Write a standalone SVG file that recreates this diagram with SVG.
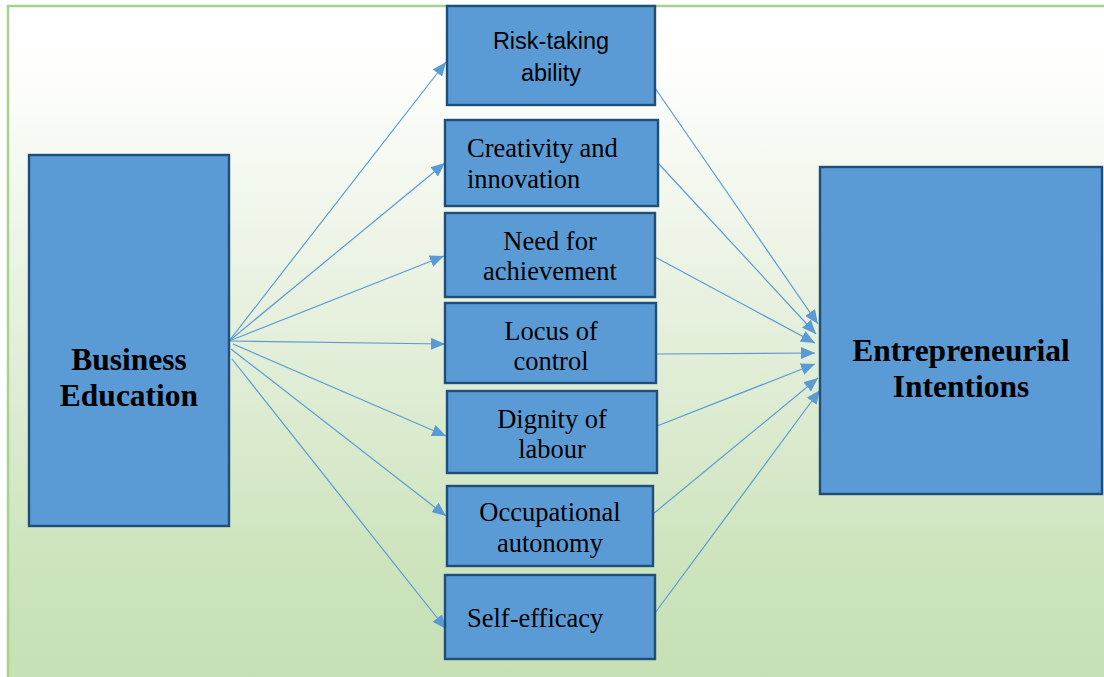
<svg xmlns="http://www.w3.org/2000/svg" width="1104" height="677" viewBox="0 0 1104 677">
  <defs>
    <linearGradient id="bg" x1="0" y1="0" x2="0" y2="1">
      <stop offset="0" stop-color="#ffffff"/>
      <stop offset="0.1" stop-color="#fdfefc"/>
      <stop offset="0.45" stop-color="#e6f0dd"/>
      <stop offset="0.8" stop-color="#cde4bd"/>
      <stop offset="1" stop-color="#c5dfb3"/>
    </linearGradient>
    <marker id="arrow" markerWidth="14" markerHeight="12" refX="14" refY="6" orient="auto" markerUnits="userSpaceOnUse">
      <path d="M0,0 L14,6 L0,12 Z" fill="#5b9bd5"/>
    </marker>
    <style>
      .box { fill: #5b9bd5; stroke: #1f4e79; stroke-width: 2.4; }
      .serif { font-family: "Liberation Serif", "Times New Roman", serif; fill: #000; }
      .sans { font-family: "Liberation Sans", Arial, sans-serif; fill: #000; }
      .lbl { font-size: 26.5px; }
      .big { font-size: 31.5px; font-weight: bold; }
      .mid { text-anchor: middle; }
      .link { stroke: #5b9bd5; stroke-width: 1.2; fill: none; marker-end: url(#arrow); }
    </style>
  </defs>

  <!-- canvas background and frame -->
  <rect x="0" y="0" width="1104" height="677" fill="#ffffff"/>
  <rect x="8" y="6" width="1110" height="690" fill="url(#bg)" stroke="#a9d18e" stroke-width="2.5"/>

  <!-- connectors -->
  <g id="connectors">
    <line class="link" x1="229" y1="341" x2="446" y2="62"/>
    <line class="link" x1="229" y1="341" x2="445" y2="163"/>
    <line class="link" x1="229" y1="341" x2="444" y2="256"/>
    <line class="link" x1="229" y1="341" x2="445" y2="344"/>
    <line class="link" x1="233" y1="344" x2="446" y2="436"/>
    <line class="link" x1="231" y1="349" x2="446" y2="516"/>
    <line class="link" x1="232" y1="359" x2="446" y2="629"/>

    <line class="link" x1="655" y1="88" x2="818" y2="324"/>
    <line class="link" x1="658" y1="163" x2="816" y2="334"/>
    <line class="link" x1="655" y1="257" x2="815" y2="343"/>
    <line class="link" x1="656" y1="354" x2="815" y2="353"/>
    <line class="link" x1="657" y1="426" x2="815" y2="364"/>
    <line class="link" x1="653" y1="514" x2="818" y2="378"/>
    <line class="link" x1="655" y1="613" x2="820" y2="390"/>
  </g>

  <g id="business-education">
    <rect class="box" x="29" y="155" width="200" height="371"/>
    <text class="serif big mid" x="129" y="370">Business</text>
    <text class="serif big mid" x="129" y="406">Education</text>
  </g>

  <g id="risk-taking">
    <rect class="box" x="447" y="6" width="208" height="99"/>
    <text class="sans mid" font-size="23.5" x="551" y="49">Risk-taking</text>
    <text class="sans mid" font-size="23.5" x="551" y="81">ability</text>
  </g>

  <g id="creativity">
    <rect class="box" x="445" y="120" width="213" height="86"/>
    <text class="serif lbl" x="467" y="157">Creativity and</text>
    <text class="serif lbl" x="467" y="188">innovation</text>
  </g>

  <g id="need-achievement">
    <rect class="box" x="445" y="213" width="210" height="84"/>
    <text class="serif lbl mid" x="550" y="250">Need for</text>
    <text class="serif lbl mid" x="550" y="280">achievement</text>
  </g>

  <g id="locus-control">
    <rect class="box" x="445" y="303" width="211" height="80"/>
    <text class="serif lbl mid" x="551" y="340">Locus of</text>
    <text class="serif lbl mid" x="551" y="370">control</text>
  </g>

  <g id="dignity-labour">
    <rect class="box" x="447" y="391" width="210" height="82"/>
    <text class="serif lbl mid" x="552" y="428">Dignity of</text>
    <text class="serif lbl mid" x="552" y="458">labour</text>
  </g>

  <g id="occupational-autonomy">
    <rect class="box" x="447" y="486" width="206" height="80"/>
    <text class="serif lbl mid" x="550" y="521">Occupational</text>
    <text class="serif lbl mid" x="550" y="552">autonomy</text>
  </g>

  <g id="self-efficacy">
    <rect class="box" x="445" y="575" width="210" height="84"/>
    <text class="serif lbl" x="467" y="627">Self-efficacy</text>
  </g>

  <g id="entrepreneurial-intentions">
    <rect class="box" x="820" y="167" width="282" height="327"/>
    <text class="serif big mid" x="961" y="361">Entrepreneurial</text>
    <text class="serif big mid" x="961" y="397">Intentions</text>
  </g>
</svg>
